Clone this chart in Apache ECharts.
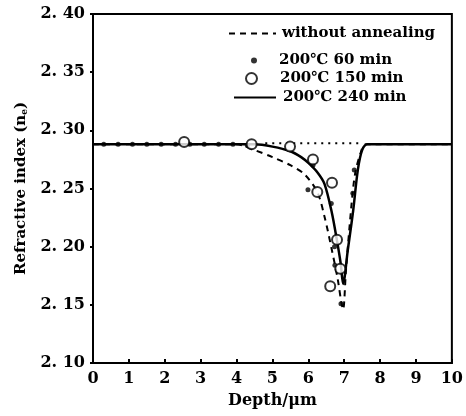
<!DOCTYPE html>
<html><head><meta charset="utf-8">
<script src="https://cdn.jsdelivr.net/npm/echarts@6/dist/echarts.min.js"></script>
<style>html,body{margin:0;padding:0;background:#fff}#c{width:466px;height:416px}</style>
</head><body><div id="c"></div>
<script>
// Data
const noAnnealX = [0, 4.0, 4.5, 5.0, 5.5, 5.9, 6.25, 6.45, 6.65, 6.82, 6.92, 6.97, 7.05, 7.2, 7.3, 7.45, 7.6, 10];
const noAnnealY = [2.288, 2.288, 2.283, 2.277, 2.270, 2.262, 2.247, 2.226, 2.198, 2.172, 2.152, 2.146, 2.180, 2.235, 2.262, 2.280, 2.288, 2.288];
const min240X = [0, 4.5, 5.0, 5.5, 5.8, 6.0, 6.25, 6.45, 6.65, 6.8, 6.9, 6.97, 7.1, 7.25, 7.38, 7.5, 7.65, 10];
const min240Y = [2.288, 2.288, 2.286, 2.282, 2.277, 2.272, 2.264, 2.254, 2.230, 2.205, 2.186, 2.168, 2.197, 2.231, 2.266, 2.283, 2.288, 2.288];
const min60X = [0.3, 0.7, 1.1, 1.5, 1.9, 2.3, 2.7, 3.1, 3.5, 3.9, 4.3, 5.99, 6.13, 6.64, 6.73, 6.74, 6.91, 7.24, 7.28];
const min60Y = [2.288, 2.288, 2.288, 2.288, 2.288, 2.288, 2.288, 2.288, 2.288, 2.288, 2.287, 2.249, 2.270, 2.237, 2.200, 2.184, 2.151, 2.246, 2.266];
const min150X = [2.54, 4.42, 5.49, 6.13, 6.66, 6.25, 6.80, 6.89, 6.61];
const min150Y = [2.290, 2.288, 2.286, 2.275, 2.255, 2.247, 2.206, 2.181, 2.166];
const dottedX = [4.8, 7.5];
const dottedY = [2.289, 2.289];
const seriesNames = ['without annealing', '200\u2103 60 min', '200\u2103 150 min', '200\u2103 240 min'];
const xTicks = [0, 10, 1];
const yTicks = [2.10, 2.40, 0.05];

const zip = (a, b) => a.map((v, i) => [v, b[i]]);
const font = '"DejaVu Serif", "Liberation Serif", serif';
const legText = pad => ({ fontFamily: font, fontWeight: 'bold', fontSize: 15, color: '#000', padding: [0, 0, 0, pad] });
const chart = echarts.init(document.getElementById('c'));
chart.setOption({
  animation: false,
  grid: { left: 93, right: 11, top: 14, bottom: 53, show: true, borderColor: '#000', borderWidth: 2 },
  legend: [
    { data: [seriesNames[0]], left: 228, top: 26, padding: 0, itemWidth: 47, itemHeight: 14, itemStyle: { opacity: 0 }, textStyle: legText(1), selectedMode: false },
    { data: [seriesNames[1]], left: 251, top: 53, padding: 0, itemWidth: 6, itemHeight: 6, textStyle: legText(17), selectedMode: false },
    { data: [seriesNames[2]], left: 245, top: 71, padding: 0, itemWidth: 11, itemHeight: 11, textStyle: legText(18), selectedMode: false },
    { data: [seriesNames[3]], left: 233, top: 90, padding: 0, itemWidth: 42, itemHeight: 14, itemStyle: { opacity: 0 }, textStyle: legText(2), selectedMode: false }
  ],
  xAxis: {
    type: 'value', min: xTicks[0], max: xTicks[1], interval: xTicks[2],
    name: 'Depth/\u03bcm', nameLocation: 'middle', nameGap: 30,
    nameTextStyle: { fontFamily: font, fontWeight: 'bold', fontSize: 16, color: '#000' },
    axisLine: { lineStyle: { color: '#000', width: 2 } },
    axisTick: { inside: true, length: 4, lineStyle: { color: '#000', width: 2 } },
    axisLabel: { fontFamily: font, fontWeight: 'bold', fontSize: 16, color: '#000', margin: 8 },
    splitLine: { show: false }
  },
  yAxis: {
    type: 'value', min: yTicks[0], max: yTicks[1], interval: yTicks[2],
    name: 'Refractive index (n{sub|e})', nameLocation: 'middle', nameGap: 64, nameRotate: 90,
    nameTextStyle: { fontFamily: font, fontWeight: 'bold', fontSize: 15, color: '#000',
      rich: { sub: { fontFamily: font, fontWeight: 'bold', fontSize: 9, color: '#000', verticalAlign: 'bottom', padding: [6, 0, 0, 0] } } },
    axisLine: { lineStyle: { color: '#000', width: 2 } },
    axisTick: { inside: false, length: 3, lineStyle: { color: '#000', width: 2 } },
    axisLabel: { fontFamily: font, fontWeight: 'bold', fontSize: 16, color: '#000', margin: 8,
      formatter: v => v.toFixed(2).replace('.', '. ') },
    splitLine: { show: false }
  },
  series: [
    { name: seriesNames[0], type: 'line', data: zip(noAnnealX, noAnnealY), symbol: 'none', smooth: 0.3,
      itemStyle: { color: '#000' }, lineStyle: { color: '#000', width: 2, type: [6, 5] }, z: 3 },
    { name: seriesNames[1], type: 'scatter', data: zip(min60X, min60Y), symbol: 'circle', symbolSize: 5,
      itemStyle: { color: '#000' }, z: 4 },
    { name: seriesNames[2], type: 'scatter', data: zip(min150X, min150Y), symbol: 'circle', symbolSize: 10,
      itemStyle: { color: '#fff', borderColor: '#000', borderWidth: 2 }, z: 5 },
    { name: seriesNames[3], type: 'line', data: zip(min240X, min240Y), symbol: 'none', smooth: 0.3,
      itemStyle: { color: '#000' }, lineStyle: { color: '#000', width: 2.5 }, z: 3 },
    { name: 'dotted', type: 'line', data: zip(dottedX, dottedY), symbol: 'none',
      itemStyle: { color: '#000' }, lineStyle: { color: '#000', width: 2, type: [2, 5] }, z: 2 }
  ]
});
</script></body></html>
